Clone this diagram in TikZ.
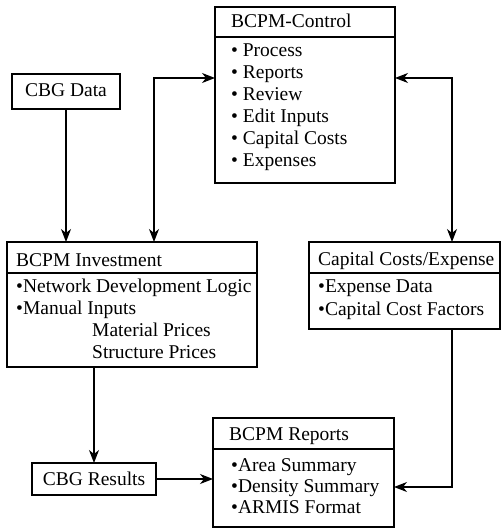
\documentclass[tikz,border=0pt]{standalone}
\usepackage{fontspec}
\setmainfont{Liberation Serif}
\usetikzlibrary{arrows.meta}
\begin{document}
\begin{tikzpicture}[x=1pt,y=-1pt,
  box/.style={draw, line width=1.3pt, inner sep=0pt, outer sep=0pt, anchor=north west},
  txt/.style={anchor=base west, inner sep=0pt, font=\fontsize{19.5}{22}\selectfont},
  ctxt/.style={anchor=base, inner sep=0pt, font=\fontsize{19.5}{22}\selectfont},
  tip/.style={Stealth[length=13pt,width=10pt,inset=4pt]},
  arr/.style={line width=1.2pt, -{Stealth[length=13pt,width=10pt,inset=4pt]}},
  darr/.style={line width=1.2pt, {Stealth[length=13pt,width=10pt,inset=4pt]}-{Stealth[length=13pt,width=10pt,inset=4pt]}},
  div/.style={line width=1.3pt}]
\useasboundingbox (0,0) rectangle (501,529);
% boxes
\node[box, minimum width=180pt, minimum height=176pt] (ctrl) at (215,7) {};
\node[box, minimum width=108pt, minimum height=35pt] (data) at (12,74) {};
\node[box, minimum width=250pt, minimum height=125pt] (inv) at (7,242) {};
\node[box, minimum width=191pt, minimum height=87pt] (cap) at (309,242) {};
\node[box, minimum width=181pt, minimum height=109pt] (rep) at (213,418) {};
\node[box, minimum width=124pt, minimum height=32pt] (res) at (32,463) {};
% dividers
\draw[div] (ctrl.west |- 0,37) -- (ctrl.east |- 0,37);
\draw[div] (inv.west |- 0,273) -- (inv.east |- 0,273);
\draw[div] (cap.west |- 0,273) -- (cap.east |- 0,273);
\draw[div] (rep.west |- 0,449) -- (rep.east |- 0,449);
% texts
\node[ctxt] (tdata) at (66,97) {CBG Data};
\node[ctxt] (tres) at (94,485) {CBG Results};
\node[txt] (hctrl) at (231,28) {BCPM-Control};
\node[txt] (c1) at (231,57) {\textbullet\ Process};
\node[txt] (c2) at (231,79) {\textbullet\ Reports};
\node[txt] (c3) at (231,101) {\textbullet\ Review};
\node[txt] (c4) at (231,123) {\textbullet\ Edit Inputs};
\node[txt] (c5) at (231,145) {\textbullet\ Capital Costs};
\node[txt] (c6) at (231,167) {\textbullet\ Expenses};
\node[txt] (hinv) at (16,266) {BCPM Investment};
\node[txt] (i1) at (16,292) {\textbullet Network Development Logic};
\node[txt] (i2) at (16,314) {\textbullet Manual Inputs};
\node[txt] (i3) at (92,336) {Material Prices};
\node[txt] (i4) at (92,358) {Structure Prices};
\node[txt] (hcap) at (318,265) {Capital Costs/Expense};
\node[txt] (p1) at (318,292) {\textbullet Expense Data};
\node[txt] (p2) at (318,315) {\textbullet Capital Cost Factors};
\node[txt] (hrep) at (229,440) {BCPM Reports};
\node[txt] (r1) at (231,471) {\textbullet Area Summary};
\node[txt] (r2) at (231,492) {\textbullet Density Summary};
\node[txt] (r3) at (231,513) {\textbullet ARMIS Format};
% connectors
\coordinate (j1) at (154,78);
\coordinate (j2) at (452,78);
\coordinate (j3) at (452,487);
\draw[arr] (data.south) -- (data.south |- inv.north);
\draw[darr] (inv.north -| j1) |- (ctrl.west |- j1);
\draw[darr] (ctrl.east |- j2) -| (cap.north -| j2);
\draw[arr] (cap.south -| j3) |- (rep.east |- j3);
\draw[arr] (inv.south -| res.north) -- (res.north);
\draw[arr] (res.east) -- (rep.west |- res.east);
\end{tikzpicture}
\end{document}
